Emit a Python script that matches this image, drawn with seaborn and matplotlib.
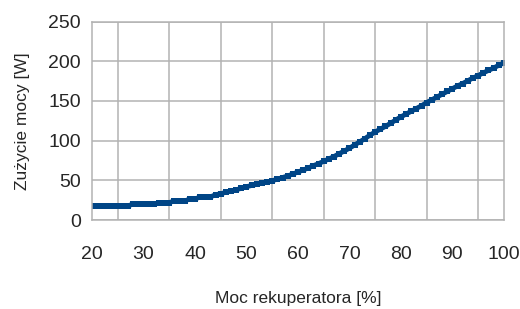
import numpy as np
import pandas as pd
import matplotlib
matplotlib.use("Agg")
import matplotlib.pyplot as plt
from matplotlib.ticker import MultipleLocator
import seaborn as sns

# moc rekuperatora [%]
moc = list(range(20, 101))
# zuzycie mocy [W]
zuzycie = [
    18, 18, 18, 18, 18, 18, 18, 18, 20, 20,      # 20-29
    20, 20, 20, 22, 22, 22, 24, 24, 24, 26.5,    # 30-39
    26.5, 29, 29, 29, 32, 33, 35, 36.5, 38, 40,  # 40-49
    42, 43.5, 45, 46.5, 48, 49.5, 51.5, 53.5, 55.5, 58,   # 50-59
    60.5, 63, 65.5, 68.5, 71, 74, 77, 80, 83.5, 87,   # 60-69
    90.5, 94.5, 98.5, 102.5, 107, 111, 114.5, 118, 122, 126,   # 70-79
    130, 133.5, 137, 140.5, 144, 148, 151.5, 155, 158.5, 162,   # 80-89
    165.5, 169, 172, 175.5, 179, 182, 185.5, 188.5, 191.5, 195,  # 90-99
    198,                                          # 100
]
x_ticks = [20, 30, 40, 50, 60, 70, 80, 90, 100]
y_ticks = [0, 50, 100, 150, 200, 250]

df = pd.DataFrame({"moc": moc, "zuzycie": zuzycie})

sns.set_style("white")
plt.rcParams["font.family"] = ["Liberation Sans Narrow", "Liberation Sans", "DejaVu Sans"]

fig = plt.figure(figsize=(5.2, 3.09), dpi=100)
ax = fig.add_axes([0.177, 0.288, 0.792, 0.642])

sns.lineplot(data=df, x="moc", y="zuzycie", ax=ax, color="#004586",
             marker="s", markersize=4, markeredgewidth=0, linewidth=3.5)

grid_col = "#b3b3b3"
ax.set_xlim(20, 100)
ax.set_ylim(0, 250)
ax.set_xticks(x_ticks)
ax.set_yticks(y_ticks)
ax.xaxis.set_minor_locator(MultipleLocator(5))
ax.grid(False)
ax.yaxis.grid(True, which="major", color=grid_col, linewidth=1.1)
ax.xaxis.grid(True, which="minor", color=grid_col, linewidth=1.1)
ax.set_axisbelow(True)
for s in ax.spines.values():
    s.set_color(grid_col)
    s.set_linewidth(1.1)

ax.tick_params(axis="x", which="major", direction="out", length=8, width=1.1,
               color=grid_col, labelsize=14, pad=11)
ax.tick_params(axis="x", which="minor", length=0)
ax.tick_params(axis="y", direction="out", length=6, width=1.1,
               color=grid_col, labelsize=14, pad=2)

ax.set_xlabel("Moc rekuperatora [%]", fontsize=12.5, labelpad=20)
ax.set_ylabel("Zużycie mocy [W]", fontsize=12.5, labelpad=13)

fig.savefig("out.png", dpi=100)
